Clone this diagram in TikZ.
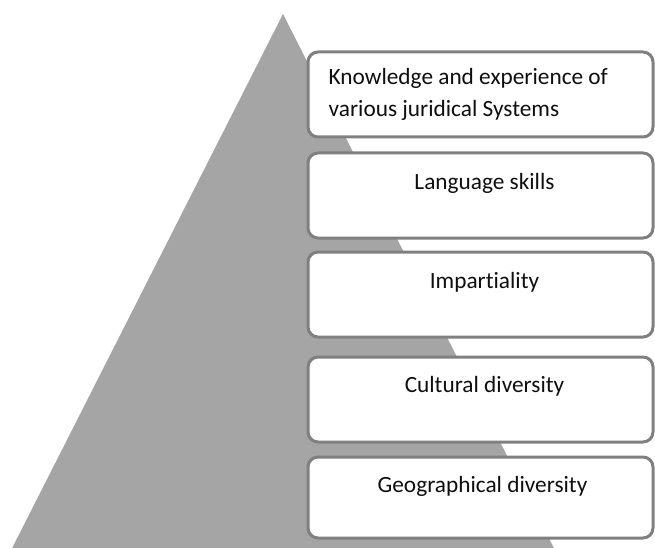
\documentclass[tikz,border=0pt]{standalone}
\usepackage{fontspec}
\setmainfont{Carlito}[Ligatures={NoCommon}]
\usetikzlibrary{calc}
\definecolor{pyr}{RGB}{165,165,165}
\definecolor{edge}{RGB}{128,128,128}
\definecolor{ink}{RGB}{15,15,15}
\begin{document}
\begin{tikzpicture}[x=1pt,y=-1pt,
  tier/.style={draw=edge, line width=3pt, fill=white, rounded corners=10pt,
    minimum width=345pt, minimum height=85pt, inner sep=0pt},
  lbl/.style={font=\fontsize{23.3}{32}\selectfont, text=ink, inner sep=0pt, anchor=base}]
  \useasboundingbox (0,0) rectangle (655,548);
  \begin{scope}
    \clip (0,0) rectangle (655,548);
    % grey pyramid behind the tiers
    \fill[pyr] (283,14) -- (1,570) -- (565,570) -- cycle;
  \end{scope}
  % tiers, top to bottom
  \node[tier] (t1) at (480.5,94.5) {};
  \node[tier] (t2) at (480.5,195.5) {};
  \node[tier] (t3) at (480.5,294.5) {};
  \node[tier] (t4) at (480.5,399.5) {};
  \node[tier, minimum height=81pt] (t5) at (480.5,497.5) {};
  % labels
  \node[lbl, anchor=base west] (l1a) at ($(t1.north west)+(22,34)$) {Knowledge and experience of};
  \node[lbl, anchor=base west] (l1b) at ($(l1a.base west)+(0,32)$) {various juridical Systems};
  \node[lbl] (l2) at ($(t2.north)+(4,38)$) {Language skills};
  \node[lbl] (l3) at ($(t3.north)+(4,38)$) {Impartiality};
  \node[lbl] (l4) at ($(t4.north)+(4,37)$) {Cultural diversity};
  \node[lbl] (l5) at ($(t5.north)+(2,37)$) {Geographical diversity};
\end{tikzpicture}
\end{document}
